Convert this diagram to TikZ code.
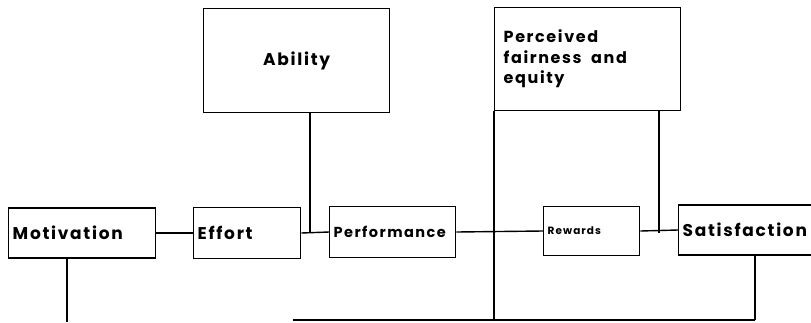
\documentclass[tikz,border=0pt]{standalone}
\usepackage{fontspec}
\setmainfont{Poppins}
\newfontfamily\plotfont[LetterSpace=10]{Poppins}
\begin{document}
\begin{tikzpicture}[x=1pt,y=-1pt,
  line width=1.4pt,
  box/.style={draw, line width=1.4pt, inner xsep=4pt, inner ysep=0pt, align=left},
  rowbox/.style={box, anchor=west},
  big/.style={font=\fontsize{17}{20}\selectfont\plotfont\bfseries},
  conn/.style={draw, line width=1.4pt}]
\useasboundingbox (0,0) rectangle (811,322);
\fill[white] (0,0) rectangle (811,322);
% boxes on the main row
\node[rowbox, big, text width=139pt, minimum height=50pt] (mot) at (8,233) {Motivation};
\node[rowbox, big, text width=99pt, minimum height=51pt] (eff) at (193,233) {Effort};
\node[rowbox, text width=118pt, minimum height=51pt, font=\fontsize{14.5}{16}\selectfont\plotfont\bfseries] (perf) at (329,232) {Performance};
\node[rowbox, text width=88pt, minimum height=49pt, font=\fontsize{10.5}{12}\selectfont\plotfont\bfseries] (rew) at (543,231) {Rewards};
\node[rowbox, big, text width=142pt, minimum height=50pt] (sat) at (678,230) {Satisfaction};
% upper boxes
\node[box, big, anchor=north west, align=center, text width=178pt, minimum height=104pt] (abil) at (203,8) {Ability};
\node[box, anchor=north west, text width=168pt, minimum height=103pt, inner xsep=9pt, font=\fontsize{16}{20.5}\selectfont\plotfont\bfseries] (perc) at (494,7)
  {\raisebox{-4pt}{\begin{tabular}{@{}l@{}}Perceived\\fairness\hspace{0.6em}and\\equity\end{tabular}}};
% junctions
\coordinate (j1) at (310,233);
\coordinate (j2) at (659,233);
\coordinate (b0) at (293,320);
\coordinate (b1) at (494,320);
\coordinate (b2) at (755,320);
\coordinate (m1) at (67,322);
% connectors
\draw[conn] (mot.east) -- (eff.west);
\draw[conn] (eff.east) -- (perf.west);
\draw[conn] (abil.south -| j1) -- (j1);
\draw[conn] (perf.east) -- (rew.west);
\draw[conn] (perc.south west) -- (b1);
\draw[conn] (perc.south -| j2) -- (j2);
\draw[conn] (rew.east) -- (sat.west);
\draw[conn] (sat.south -| b2) -- (b2);
\draw[conn] (b0) -- (b2);
\draw[conn] (mot.south -| m1) -- (m1);
\end{tikzpicture}
\end{document}
